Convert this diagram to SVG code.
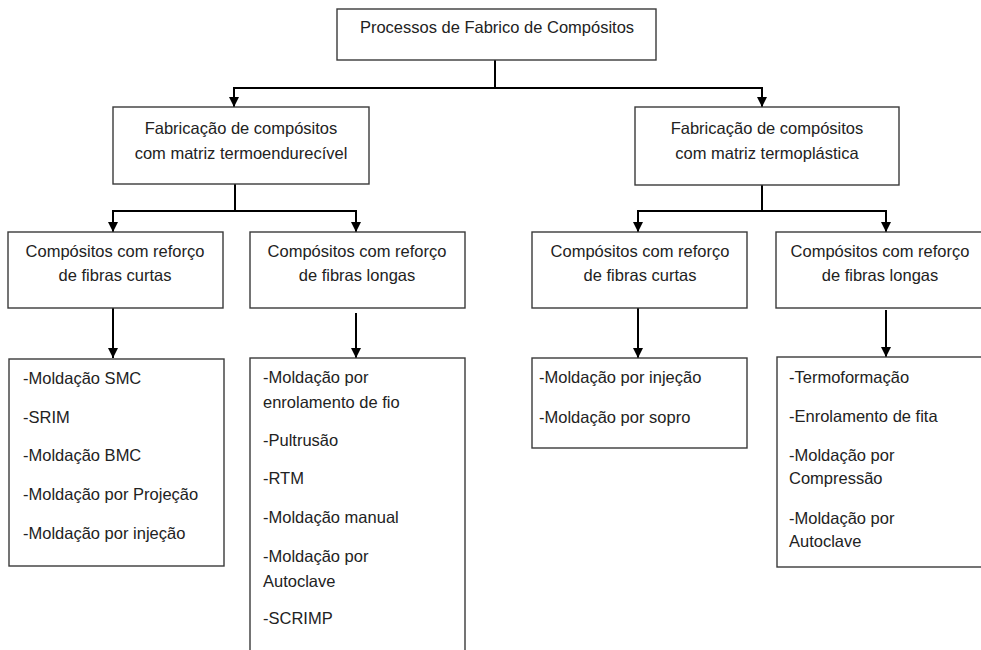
<svg xmlns="http://www.w3.org/2000/svg" width="981" height="650" viewBox="0 0 981 650">
<style>
.box{fill:#fff;stroke:#3a3a3a;stroke-width:1.4}
.t{font-family:"Liberation Sans",Arial,sans-serif;font-size:16.5px;fill:#222}
.c{text-anchor:middle}
.ln{fill:none;stroke:#000;stroke-width:2}
.ar{fill:none;stroke:#000;stroke-width:2;marker-end:url(#ah)}
</style>
<defs>
<marker id="ah" markerUnits="userSpaceOnUse" markerWidth="10" markerHeight="10" viewBox="0 0 10 10" refX="10" refY="5" orient="auto">
<path d="M0,0 L10,5 L0,10 Z" fill="#000"/>
</marker>
</defs>
<rect width="981" height="650" fill="#fff"/>
<g id="connectors">
<path class="ln" d="M495,60 V88"/>
<path class="ln" d="M233,88 H763"/>
<path class="ar" d="M234,87 V107"/>
<path class="ar" d="M762,87 V107"/>
<path class="ln" d="M235,184 V211"/>
<path class="ln" d="M112,211 H357"/>
<path class="ar" d="M113,210 V232"/>
<path class="ar" d="M356,210 V232"/>
<path class="ln" d="M762,185 V211"/>
<path class="ln" d="M637,211 H887"/>
<path class="ar" d="M638,210 V232"/>
<path class="ar" d="M886,210 V232"/>
<path class="ar" d="M113,308 V358"/>
<path class="ar" d="M356,313 V358"/>
<path class="ar" d="M638,308 V358"/>
<path class="ar" d="M886,310 V357"/>
</g>
<g id="root">
<rect class="box" x="337" y="9" width="319" height="51"/>
<text class="t c" x="497" y="33">Processos de Fabrico de  Compósitos</text>
</g>
<g id="termoendurecivel">
<rect class="box" x="113" y="107" width="256" height="77"/>
<text class="t c" x="241" y="134">Fabricação de compósitos</text>
<text class="t c" x="241" y="159">com matriz termoendurecível</text>
</g>
<g id="termoplastica">
<rect class="box" x="635" y="107" width="264" height="78"/>
<text class="t c" x="767" y="134">Fabricação de compósitos</text>
<text class="t c" x="767" y="159">com matriz termoplástica</text>
</g>
<g id="te-curtas">
<rect class="box" x="8" y="232" width="215" height="76"/>
<text class="t c" x="115" y="257">Compósitos com reforço</text>
<text class="t c" x="115" y="281">de fibras curtas</text>
</g>
<g id="te-longas">
<rect class="box" x="250" y="232" width="215" height="76"/>
<text class="t c" x="357" y="257">Compósitos com reforço</text>
<text class="t c" x="357" y="281">de fibras longas</text>
</g>
<g id="tp-curtas">
<rect class="box" x="532" y="232" width="215" height="76"/>
<text class="t c" x="640" y="257">Compósitos com reforço</text>
<text class="t c" x="640" y="281">de fibras curtas</text>
</g>
<g id="tp-longas">
<rect class="box" x="776" y="232" width="218" height="76"/>
<text class="t c" x="880" y="257">Compósitos com reforço</text>
<text class="t c" x="880" y="281">de fibras longas</text>
</g>
<g id="te-curtas-lista">
<rect class="box" x="9" y="359" width="215" height="207"/>
<text class="t" x="23" y="384">-Moldação SMC</text>
<text class="t" x="23" y="423">-SRIM</text>
<text class="t" x="23" y="461">-Moldação BMC</text>
<text class="t" x="23" y="500">-Moldação por Projeção</text>
<text class="t" x="23" y="539">-Moldação por injeção</text>
</g>
<g id="te-longas-lista">
<rect class="box" x="250" y="358" width="215" height="310"/>
<text class="t" x="263" y="383">-Moldação por</text>
<text class="t" x="263" y="408">enrolamento de fio</text>
<text class="t" x="263" y="446">-Pultrusão</text>
<text class="t" x="263" y="484">-RTM</text>
<text class="t" x="263" y="523">-Moldação manual</text>
<text class="t" x="263" y="562">-Moldação por</text>
<text class="t" x="263" y="587">Autoclave</text>
<text class="t" x="263" y="624">-SCRIMP</text>
</g>
<g id="tp-curtas-lista">
<rect class="box" x="532" y="358" width="215" height="90"/>
<text class="t" x="539" y="383">-Moldação por injeção</text>
<text class="t" x="539" y="423">-Moldação por sopro</text>
</g>
<g id="tp-longas-lista">
<rect class="box" x="777" y="357" width="218" height="210"/>
<text class="t" x="789" y="383">-Termoformação</text>
<text class="t" x="789" y="422">-Enrolamento de fita</text>
<text class="t" x="789" y="461">-Moldação por</text>
<text class="t" x="789" y="484">Compressão</text>
<text class="t" x="789" y="524">-Moldação por</text>
<text class="t" x="789" y="547">Autoclave</text>
</g>
</svg>
